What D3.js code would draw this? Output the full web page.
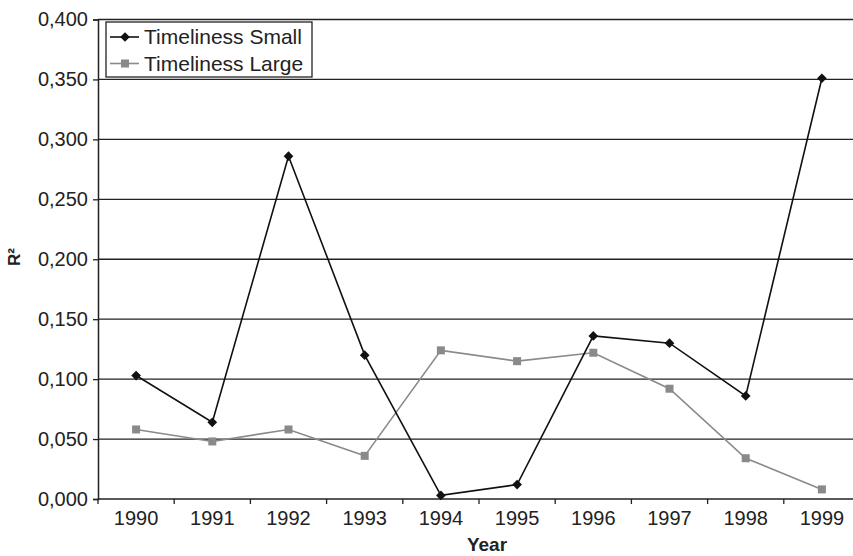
<!DOCTYPE html>
<html>
<head>
<meta charset="utf-8">
<script src="https://cdn.jsdelivr.net/npm/d3@7"></script>
<style>
  body { margin: 0; background: #fff; }
  svg { display: block; font-family: "Liberation Sans", Arial, sans-serif; }
</style>
</head>
<body>
<div class="canvas"></div>
<script>
// data
const years = ['1990', '1991', '1992', '1993', '1994', '1995', '1996', '1997', '1998', '1999'];
const timelinessSmall = [0.103, 0.064, 0.286, 0.120, 0.003, 0.012, 0.136, 0.130, 0.086, 0.351];
const timelinessLarge = [0.058, 0.048, 0.058, 0.036, 0.124, 0.115, 0.122, 0.092, 0.034, 0.008];
const yTicks = [0, 0.05, 0.1, 0.15, 0.2, 0.25, 0.3, 0.35, 0.4];

const series = [
  { name: 'Timeliness Small', values: timelinessSmall, color: '#111', marker: 'diamond' },
  { name: 'Timeliness Large', values: timelinessLarge, color: '#8a8a8a', marker: 'square' }
];

// Margins + Dimensions (plot runs past the right edge, like the source)
const margin = { top: 19.5, right: -7, bottom: 57, left: 98 };
const width = 853, height = 556;
const graphWidth = width - margin.left - margin.right;
const graphHeight = height - margin.top - margin.bottom;

const svg = d3.select('.canvas')
  .append('svg')
  .attr('width', width)
  .attr('height', height);

const graph = svg.append('g')
  .attr('transform', `translate(${margin.left},${margin.top})`);

const x = d3.scaleBand().domain(years).range([0, graphWidth]).padding(0);
const y = d3.scaleLinear().domain([0, 0.4]).range([graphHeight, 0]);
const cx = d => x(d) + x.bandwidth() / 2;

// gridlines
graph.append('g')
  .selectAll('line')
  .data(yTicks.filter(d => d > 0))
  .enter().append('line')
  .attr('x1', 0).attr('x2', graphWidth)
  .attr('y1', d => y(d)).attr('y2', d => y(d))
  .attr('stroke', '#222')
  .attr('stroke-width', 1.3);

// y axis
const fmt = d => d3.format('.3f')(d).replace('.', ',');
const yAxisGroup = graph.append('g')
  .call(d3.axisLeft(y).tickValues(yTicks).tickFormat(fmt).tickSize(5).tickPadding(5));
yAxisGroup.select('.domain').attr('stroke', '#222').attr('stroke-width', 1.5);
yAxisGroup.selectAll('.tick line').attr('stroke', '#222').attr('stroke-width', 1.3);
yAxisGroup.selectAll('text').attr('font-size', 20).attr('fill', '#222');

// x axis (labels at centres, ticks at category boundaries)
const xAxisGroup = graph.append('g')
  .attr('transform', `translate(0,${graphHeight})`)
  .call(d3.axisBottom(x).tickSize(0).tickPadding(12));
xAxisGroup.select('.domain').remove();
xAxisGroup.selectAll('text').attr('font-size', 20).attr('fill', '#222');

graph.append('line')
  .attr('x1', 0).attr('x2', graphWidth)
  .attr('y1', graphHeight).attr('y2', graphHeight)
  .attr('stroke', '#222').attr('stroke-width', 1.5);

graph.append('g')
  .selectAll('line')
  .data(years)
  .enter().append('line')
  .attr('x1', d => x(d)).attr('x2', d => x(d))
  .attr('y1', graphHeight).attr('y2', graphHeight + 5)
  .attr('stroke', '#222').attr('stroke-width', 1.3);

// axis titles
svg.append('text')
  .attr('x', 487).attr('y', 551)
  .attr('text-anchor', 'middle')
  .attr('font-size', 19).attr('font-weight', 'bold').attr('fill', '#222')
  .text('Year');

svg.append('text')
  .attr('transform', 'translate(20,257) rotate(-90)')
  .attr('text-anchor', 'middle')
  .attr('font-size', 17).attr('font-weight', 'bold').attr('fill', '#222')
  .text('R²');

// markers
const drawMarker = (sel, s) => {
  if (s.marker === 'diamond') {
    sel.append('path').attr('d', d3.symbol(d3.symbolDiamond2, 60)()).attr('fill', s.color);
  } else {
    sel.append('rect').attr('x', -4).attr('y', -4).attr('width', 8).attr('height', 8).attr('fill', s.color);
  }
};

const line = d3.line()
  .x(d => cx(d.year))
  .y(d => y(d.value));

// draw large first so small sits on top
series.slice().reverse().forEach(s => {
  const pts = years.map((yr, i) => ({ year: yr, value: s.values[i] }));
  graph.append('path')
    .datum(pts)
    .attr('fill', 'none')
    .attr('stroke', s.color)
    .attr('stroke-width', 1.6)
    .attr('d', line);

  graph.append('g')
    .selectAll('g')
    .data(pts)
    .enter().append('g')
    .attr('transform', d => `translate(${cx(d.year)},${y(d.value)})`)
    .each(function () { drawMarker(d3.select(this), s); });
});

// legend
const legend = svg.append('g');
legend.append('rect')
  .attr('x', 106).attr('y', 22)
  .attr('width', 206).attr('height', 55)
  .attr('fill', '#fff')
  .attr('stroke', '#222').attr('stroke-width', 1.3);

series.forEach((s, i) => {
  const ly = 37 + i * 26.5;
  const row = legend.append('g');
  row.append('line')
    .attr('x1', 110).attr('x2', 139)
    .attr('y1', ly).attr('y2', ly)
    .attr('stroke', s.color).attr('stroke-width', 1.6);
  const m = row.append('g').attr('transform', `translate(125,${ly})`);
  drawMarker(m, s);
  row.append('text')
    .attr('x', 144).attr('y', ly)
    .attr('dy', '0.35em')
    .attr('font-size', 21).attr('fill', '#222')
    .text(s.name);
});
</script>
</body>
</html>
